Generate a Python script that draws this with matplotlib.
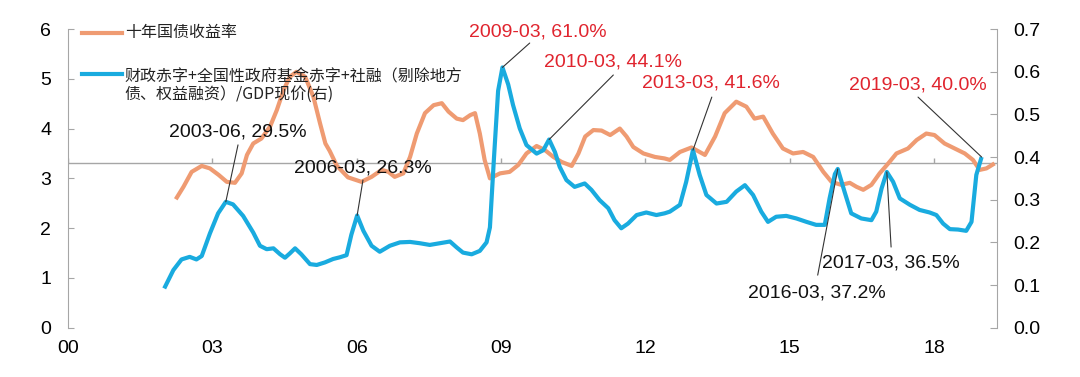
import matplotlib
matplotlib.use("Agg")
import matplotlib.pyplot as plt
from matplotlib.lines import Line2D

plt.rcParams['font.family'] = ['Liberation Sans', 'Noto Sans CJK SC', 'DejaVu Sans']

# ---------------- data ----------------
blue_x = [2002.00, 2002.19, 2002.36, 2002.53, 2002.67, 2002.78, 2002.95, 2003.12, 2003.28, 2003.43,
          2003.64, 2003.85, 2003.99, 2004.13, 2004.27, 2004.41, 2004.51, 2004.61, 2004.72, 2004.85,
          2005.03, 2005.17, 2005.34, 2005.51, 2005.65, 2005.79, 2005.89, 2006.01, 2006.14, 2006.31,
          2006.48, 2006.69, 2006.90, 2007.11, 2007.31, 2007.52, 2007.73, 2007.94, 2008.08, 2008.21,
          2008.39, 2008.56, 2008.70, 2008.77, 2008.85, 2008.94, 2009.03, 2009.15, 2009.25, 2009.39,
          2009.53, 2009.74, 2009.88, 2010.00, 2010.12, 2010.22, 2010.36, 2010.53, 2010.74, 2010.88,
          2011.05, 2011.23, 2011.36, 2011.50, 2011.64, 2011.82, 2012.02, 2012.23, 2012.40, 2012.51,
          2012.72, 2012.85, 2012.99, 2013.13, 2013.27, 2013.48, 2013.69, 2013.89, 2014.07, 2014.24,
          2014.41, 2014.55, 2014.72, 2014.93, 2015.14, 2015.35, 2015.55, 2015.73, 2015.83, 2015.94,
          2016.00, 2016.14, 2016.28, 2016.49, 2016.70, 2016.80, 2016.91, 2017.02, 2017.15, 2017.29,
          2017.50, 2017.70, 2017.91, 2018.05, 2018.19, 2018.33, 2018.50, 2018.67, 2018.78, 2018.88,
          2018.99]
blue_y = [0.092, 0.135, 0.160, 0.166, 0.160, 0.168, 0.221, 0.268, 0.295, 0.289,
          0.262, 0.223, 0.192, 0.184, 0.186, 0.172, 0.164, 0.174, 0.186, 0.172,
          0.149, 0.147, 0.153, 0.161, 0.165, 0.170, 0.218, 0.263, 0.227, 0.192,
          0.178, 0.192, 0.200, 0.201, 0.198, 0.194, 0.198, 0.202, 0.188, 0.176,
          0.172, 0.180, 0.200, 0.235, 0.390, 0.555, 0.610, 0.570, 0.522, 0.467,
          0.428, 0.408, 0.416, 0.441, 0.412, 0.377, 0.346, 0.330, 0.338, 0.323,
          0.299, 0.280, 0.252, 0.233, 0.244, 0.264, 0.270, 0.264, 0.268, 0.272,
          0.288, 0.342, 0.416, 0.358, 0.311, 0.291, 0.295, 0.319, 0.334, 0.311,
          0.272, 0.248, 0.260, 0.262, 0.256, 0.248, 0.241, 0.241, 0.303, 0.360,
          0.372, 0.319, 0.268, 0.256, 0.252, 0.272, 0.326, 0.365, 0.342, 0.303,
          0.288, 0.276, 0.270, 0.264, 0.244, 0.231, 0.230, 0.227, 0.248, 0.358,
          0.400]

orange_x = [2002.24, 2002.40, 2002.57, 2002.78, 2002.95, 2003.13, 2003.30, 2003.47, 2003.61, 2003.72,
            2003.85, 2004.02, 2004.20, 2004.34, 2004.48, 2004.61, 2004.75, 2004.93, 2005.10, 2005.24,
            2005.35, 2005.44, 2005.59, 2005.82, 2006.10, 2006.31, 2006.52, 2006.66, 2006.79, 2006.97,
            2007.11, 2007.25, 2007.42, 2007.60, 2007.77, 2007.91, 2008.08, 2008.21, 2008.36, 2008.46,
            2008.56, 2008.66, 2008.77, 2008.98, 2009.18, 2009.36, 2009.53, 2009.74, 2009.91, 2010.09,
            2010.26, 2010.47, 2010.61, 2010.75, 2010.92, 2011.09, 2011.27, 2011.47, 2011.61, 2011.75,
            2011.96, 2012.20, 2012.40, 2012.51, 2012.72, 2012.96, 2013.24, 2013.45, 2013.65, 2013.89,
            2014.10, 2014.27, 2014.45, 2014.65, 2014.86, 2015.07, 2015.28, 2015.49, 2015.70, 2015.87,
            2016.07, 2016.25, 2016.39, 2016.53, 2016.70, 2016.87, 2017.05, 2017.22, 2017.46, 2017.64,
            2017.84, 2018.01, 2018.22, 2018.43, 2018.64, 2018.81, 2018.95, 2019.09, 2019.26]
orange_y = [2.58, 2.83, 3.13, 3.25, 3.20, 3.07, 2.93, 2.91, 3.10, 3.47,
            3.70, 3.80, 4.04, 4.37, 4.77, 5.04, 5.14, 5.04, 4.64, 4.10,
            3.70, 3.55, 3.25, 3.02, 2.93, 3.03, 3.17, 3.13, 3.03, 3.10,
            3.43, 3.90, 4.31, 4.47, 4.51, 4.34, 4.20, 4.17, 4.27, 4.31,
            3.90, 3.37, 3.00, 3.10, 3.13, 3.27, 3.50, 3.65, 3.57, 3.43,
            3.33, 3.25, 3.50, 3.84, 3.97, 3.96, 3.87, 4.00, 3.84, 3.63,
            3.50, 3.43, 3.40, 3.37, 3.53, 3.62, 3.47, 3.84, 4.31, 4.54,
            4.44, 4.20, 4.24, 3.90, 3.60, 3.50, 3.53, 3.43, 3.13, 2.93,
            2.87, 2.91, 2.83, 2.77, 2.87, 3.10, 3.30, 3.50, 3.60, 3.77,
            3.90, 3.87, 3.70, 3.60, 3.50, 3.37, 3.17, 3.20, 3.30]

x_ticks = [2000, 2003, 2006, 2009, 2012, 2015, 2018]
x_labels = ['00', '03', '06', '09', '12', '15', '18']
left_ticks = [0, 1, 2, 3, 4, 5, 6]
right_ticks = [0.0, 0.1, 0.2, 0.3, 0.4, 0.5, 0.6, 0.7]
right_labels = ['0.0', '0.1', '0.2', '0.3', '0.4', '0.5', '0.6', '0.7']

legend_orange = '十年国债收益率'
legend_blue = '财政赤字+全国性政府基金赤字+社融（剔除地方\n债、权益融资）/GDP现价(右)'

# annotations: (label, peak x, peak value, colour, text pos (axes frac), line start (axes frac))
ann_labels = ['2003-06, 29.5%', '2006-03, 26.3%', '2009-03, 61.0%', '2010-03, 44.1%',
              '2013-03, 41.6%', '2016-03, 37.2%', '2017-03, 36.5%', '2019-03, 40.0%']
ann_px = [2003.28, 2006.01, 2009.03, 2010.00, 2012.99, 2016.00, 2017.02, 2018.99]
ann_val = [0.295, 0.263, 0.610, 0.441, 0.416, 0.372, 0.365, 0.400]
ann_red = [False, False, True, True, True, False, False, True]
ann_text_pos = [(0.1825, 0.655), (0.3175, 0.535), (0.506, 0.990), (0.587, 0.890),
                (0.692, 0.819), (0.806, 0.116), (0.886, 0.217), (0.915, 0.812)]
ann_line_start = [(0.183, 0.612), (0.3175, 0.494), (0.497, 0.953), (0.587, 0.846),
                  (0.693, 0.772), (0.807, 0.176), (0.886, 0.270), (0.915, 0.772)]

# ---------------- style ----------------
ORANGE = '#EF9B72'
BLUE = '#19ABDF'
RED = '#E0242E'
GRAY = '#A6A6A6'

fig = plt.figure(figsize=(10.8, 3.77), dpi=100)
ax = fig.add_axes([68 / 1080, 1 - 327.7 / 377, 929 / 1080, 298.7 / 377])
ax2 = ax.twinx()

ax.plot(orange_x, orange_y, color=ORANGE, lw=3.0, solid_joinstyle='round', solid_capstyle='butt')
ax2.plot(blue_x, blue_y, color=BLUE, lw=3.0, solid_joinstyle='round', solid_capstyle='butt')

ax.set_xlim(2000, 2019.31)
ax.set_ylim(0, 6)
ax2.set_ylim(0, 0.7)

ax.set_yticks(left_ticks)
ax.set_yticklabels([str(t) for t in left_ticks])
ax2.set_yticks(right_ticks)
ax2.set_yticklabels(right_labels)
ax.set_xticks(x_ticks)
ax.set_xticklabels(x_labels)

for a in (ax, ax2):
    a.spines['top'].set_visible(False)
    a.spines['bottom'].set_visible(False)
    a.spines['left'].set_color(GRAY)
    a.spines['right'].set_color(GRAY)
ax.spines['right'].set_visible(False)
ax2.spines['left'].set_visible(False)

ax.tick_params(axis='y', direction='in', length=4, color=GRAY, labelsize=14, pad=12, labelcolor='black')
ax2.tick_params(axis='y', direction='in', length=5, color=GRAY, labelsize=14, pad=12, labelcolor='black')
ax.tick_params(axis='x', length=0, labelsize=14, pad=9)

# horizontal baseline at 3.3 with small upward ticks
ax.axhline(3.3, color=GRAY, lw=1.0, zorder=1)
ax.vlines(x_ticks, 3.3, 3.41, color=GRAY, lw=1.0, zorder=1)

# legend (manual)
lx0, lx1 = 0.015, 0.058
ax.add_line(Line2D([lx0, lx1], [0.987, 0.987], transform=ax.transAxes, color=ORANGE, lw=3.0, clip_on=False))
ax.add_line(Line2D([lx0, lx1], [0.849, 0.849], transform=ax.transAxes, color=BLUE, lw=3.0, clip_on=False))
ax.text(0.061, 0.987, legend_orange, transform=ax.transAxes, fontsize=11.5, va='center', ha='left',
        family=['Noto Sans CJK SC', 'DejaVu Sans'], color='#222222')
ax.text(0.061, 0.868, legend_blue, transform=ax.transAxes, fontsize=11.5, va='top', ha='left',
        family=['Noto Sans CJK SC', 'DejaVu Sans'], color='#222222', linespacing=1.05)

# annotations
for lab, px, pv, red, tp, ls in zip(ann_labels, ann_px, ann_val, ann_red, ann_text_pos, ann_line_start):
    ax2.annotate('', xy=(px, pv), xycoords='data', xytext=ls, textcoords='axes fraction',
                 arrowprops=dict(arrowstyle='-', color='#333333', lw=0.8, shrinkA=0, shrinkB=0))
    ax2.text(tp[0], tp[1], lab, transform=ax2.transAxes, ha='center', va='center', fontsize=14,
             color=RED if red else '#111111')

fig.savefig('out.png', dpi=100)
